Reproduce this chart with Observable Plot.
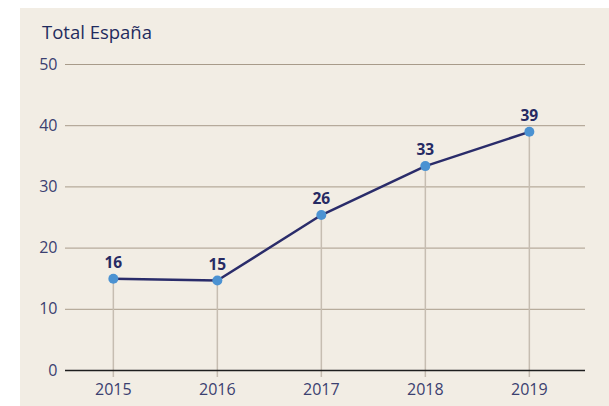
<!DOCTYPE html>
<html>
<head>
<meta charset="utf-8">
<script src="https://cdn.jsdelivr.net/npm/d3@7"></script>
<script src="https://cdn.jsdelivr.net/npm/@observablehq/plot@0.6"></script>
<style>
  html, body { margin: 0; padding: 0; background: #ffffff; }
  #wrap { position: relative; width: 609px; height: 406px; overflow: hidden; }
  #panel { position: absolute; left: 20px; top: 8px; width: 589px; height: 398px; background: #f2ede4; }
  #title { position: absolute; left: 42px; top: 19px; font-family: "Open Sans", sans-serif; font-size: 18.5px; color: #1f2b5e; }
  #chart { position: absolute; left: 0; top: 0; }
  #chart svg text, #chart svg tspan { font-family: "Open Sans", sans-serif !important; font-size: 16px !important; }
  #chart svg g[aria-label="text"] text { font-size: 15.5px !important; font-weight: bold; }
</style>
</head>
<body>
<div id="wrap">
  <div id="panel"></div>
  <div id="title">Total España</div>
  <div id="chart"></div>
</div>
<script>
const years = [2015, 2016, 2017, 2018, 2019];
const values = [15.0, 14.7, 25.4, 33.4, 39.0];
const labels = ["16", "15", "26", "33", "39"];
const yTicks = [0, 10, 20, 30, 40, 50];

const data = years.map((y, i) => ({year: y, value: values[i], label: labels[i]}));

const chart = Plot.plot({
  width: 609,
  height: 406,
  marginTop: 64,
  marginBottom: 36,
  marginLeft: 65,
  marginRight: 24,
  style: {background: "transparent", fontFamily: "Open Sans, sans-serif", fontSize: "16px", color: "#3b4070"},
  x: {domain: [2014.54, 2019.54], ticks: years, tickFormat: d => String(d), label: null},
  y: {domain: [0, 50], ticks: yTicks, label: null},
  marks: [
    Plot.ruleY(yTicks.filter(d => d > 0), {stroke: "#a89b8a", strokeWidth: 1}),
    Plot.ruleX(data, {x: "year", y1: 0, y2: "value", stroke: "#c6bdb1", strokeWidth: 1.5}),
    Plot.axisX({ticks: years, tickFormat: d => String(d), tickSize: 7, tickPadding: 6, stroke: "#c6bdb1", strokeWidth: 1.5, fill: "#3b4070", label: null}),
    Plot.axisY({ticks: yTicks, tickSize: 0, tickPadding: 8, fill: "#3b4070", label: null}),
    Plot.ruleY([0], {stroke: "#1e1e1e", strokeWidth: 1.5}),
    Plot.line(data, {x: "year", y: "value", stroke: "#2a2c6a", strokeWidth: 2.5}),
    Plot.dot(data, {x: "year", y: "value", r: 5, fill: "#4b92d2", stroke: null}),
    Plot.text(data, {x: "year", y: "value", text: "label", dy: -16, fill: "#262a63"})
  ]
});
document.getElementById("chart").appendChild(chart);
</script>
</body>
</html>
